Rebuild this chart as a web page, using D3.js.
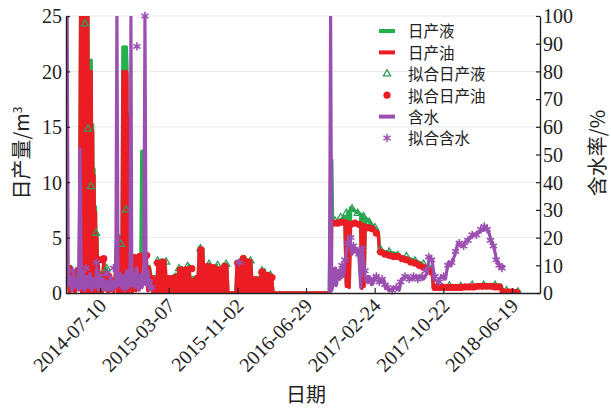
<!DOCTYPE html>
<html>
<head>
<meta charset="utf-8">
<script src="https://cdn.jsdelivr.net/npm/d3@7"></script>
<style>
body { margin: 0; background: #fff; }
svg text { font-family: "Liberation Serif", "DejaVu Serif", serif; fill: #222; }
svg text.cjk { font-family: "Noto Sans CJK SC", "Noto Sans", sans-serif; }
</style>
</head>
<body>
<svg id="chart" width="611" height="409"></svg>
<script>

// day 0 of the production record
var startDate = new Date(2014, 2, 13);
var endDay = 1657;

var tickDates = ["2014-07-10", "2015-03-07", "2015-11-02", "2016-06-29", "2017-02-24", "2017-10-22", "2018-06-19"];
var leftTicks = [0, 5, 10, 15, 20, 25];
var rightTicks = [0, 10, 20, 30, 40, 50, 60, 70, 80, 90, 100];
var legendNames = ["日产液", "日产油", "拟合日产液", "拟合日产油", "含水", "拟合含水"];

// [day, m3/d]
var liquid = [[7,2.3],[12,0],[17,2.4],[22,0.3],[27,1.8],[32,0.2],[37,2.2],[42,0.5],[47,1.9],
  [52,30],[55,0],[58,30],[61,0],[64,30],[67,0],[70,30],[73,0],[76,30],[79,0],
  [82,21],[85,0],[88,21],[91,0],[93,15.2],[96,0],[98,11.2],[101,0],[103,7.8],[106,0],[108,5.4],[111,0],[113,2.6],
  [117,0.3],[122,1.8],[127,0.2],[132,3.0],[137,0.4],[142,2.2],[147,0.2],[152,1.6],[157,0.3],[162,1.2],[167,0.2],[172,1.4],
  [178,5.4],[181,0],[184,5.2],[187,0],[190,5.0],[193,0],[196,4.6],[199,22.2],[202,0],[205,22.2],[208,0],[211,22.2],
  [213,20.4],[214,0],[216,16.2],[219,0],[221,4.0],[226,3.6],[232,0.2],[238,3.4],
  [244,0.3],[250,3.3],[256,0.5],[262,3.6],[265,12.8],[272,12.8],[275,1.2],[280,3.6],[286,0.3],[291,2.4],
  [298,1.4],[304,0],[310,1.5],[316,0],[322,2.9],[328,0],[334,3.0],[340,0],[346,2.9],[352,0],
  [358,1.4],[364,0],[370,1.5],[376,0],[382,1.7],[388,0],[394,2.2],[400,0],[406,2.3],[412,0],
  [418,2.2],[424,0],[430,2.5],[436,0],[442,1.4],[448,0],[454,1.5],[460,0],[466,4.1],[472,0],
  [478,4.0],[484,0],[490,2.5],[496,0],[502,2.6],[508,0],[514,2.4],[520,0],[526,2.5],[532,0],
  [538,2.2],[544,0],[550,2.6],[556,0],[562,2.6],[566,0],[594,0],[598,2.8],[604,0],[610,3.0],
  [616,0],[622,3.3],[628,0],[634,3.0],[640,0],[646,2.9],[652,0],[658,1.3],[664,0],[670,1.4],
  [676,0],[682,2.0],[688,0],[694,2.1],[700,0],[706,1.7],[712,0],[718,1.6],[724,0],[920,0],
  [926,12.0],[929,12.0],[932,6.5],[945,6.4],[960,6.6],[975,6.9],[980,0.8],[985,7.3],[990,0.6],[995,7.7],
  [1010,7.4],[1030,7.1],[1034,0.5],[1038,7.0],[1042,0.8],[1046,6.8],[1064,6.3],[1081,5.8],[1092,5.5],[1096,3.9],
  [1120,3.7],[1150,3.6],[1170,3.3],[1190,3.2],[1214,3.0],[1240,2.7],[1262,2.3],[1280,2.0],[1284,0.7],[1320,0.6],
  [1360,0.65],[1400,0.6],[1440,0.7],[1480,0.75],[1520,0.7],[1528,0.2],[1560,0.15],[1590,0.1]];

var oil = [[7,2.2],[12,0],[17,2.3],[22,0.2],[27,1.6],[32,0.1],[37,2.1],[42,0.4],[47,1.8],
  [52,30],[55,0],[58,30],[61,0],[64,30],[67,0],[70,30],[73,0],[76,30],[79,0],
  [82,20],[85,0],[88,20],[91,0],[93,14.6],[96,0],[98,10.6],[101,0],[103,7.3],[106,0],[108,5.0],[111,0],[113,2.5],
  [117,0.2],[122,1.6],[127,0.1],[132,2.9],[137,0.3],[142,2.0],[147,0.1],[152,1.5],[157,0.2],[162,1.0],[167,0.1],[172,1.2],
  [178,5.2],[181,0],[184,5.0],[187,0],[190,4.8],[193,0],[196,4.4],[199,20],[202,0],[205,20],[208,0],[211,20],
  [213,19.8],[214,0],[216,16],[219,0],[221,3.8],[226,3.4],[232,0.1],[238,3.2],
  [244,0.2],[250,3.1],[256,0.3],[262,3.4],[265,3.5],[272,3.3],[275,1.0],[280,3.5],[286,0.2],[291,2.3],
  [298,1.2],[304,0],[310,1.3],[316,0],[322,2.7],[328,0],[334,2.8],[340,0],[346,2.7],[352,0],
  [358,1.2],[364,0],[370,1.3],[376,0],[382,1.5],[388,0],[394,2.0],[400,0],[406,2.1],[412,0],
  [418,2.0],[424,0],[430,2.3],[436,0],[442,1.2],[448,0],[454,1.3],[460,0],[466,3.9],[472,0],
  [478,3.8],[484,0],[490,2.3],[496,0],[502,2.4],[508,0],[514,2.2],[520,0],[526,2.3],[532,0],
  [538,2.0],[544,0],[550,2.4],[556,0],[562,2.4],[566,0],[594,0],[598,2.6],[604,0],[610,2.8],
  [616,0],[622,3.1],[628,0],[634,2.8],[640,0],[646,2.7],[652,0],[658,1.1],[664,0],[670,1.2],
  [676,0],[682,1.8],[688,0],[694,1.9],[700,0],[706,1.5],[712,0],[718,1.4],[724,0],[920,0],
  [926,0.2],[929,6.2],[932,6.3],[945,6.2],[960,6.4],[975,6.3],[980,0.6],[985,6.4],[990,0.5],[995,6.3],
  [1010,6.2],[1030,6.2],[1034,0.4],[1038,6.1],[1042,0.6],[1046,6.1],[1064,6.0],[1081,5.6],[1092,5.2],[1096,3.7],
  [1120,3.5],[1150,3.3],[1170,3.2],[1190,3.0],[1214,2.7],[1240,2.4],[1262,2.1],[1280,1.9],[1284,0.5],[1320,0.5],
  [1360,0.5],[1400,0.55],[1440,0.6],[1480,0.6],[1520,0.55],[1528,0.1],[1560,0.1],[1590,0.05]];

// [day, %], null = no production
var water = [[1,2],[4,100],[8,3],[14,6],[20,1],[26,7],[32,2],[38,5],[44,1],[49,52],
  [54,2],[60,8],[66,1],[72,6],[78,2],[84,7],[90,1],[96,5],[102,2],[108,9],
  [114,1],[120,6],[126,2],[132,5],[138,1],[144,4],[150,1],[156,6],[162,1],[168,4],
  [174,2],[178,100],[182,3],[188,7],[194,2],[200,6],[206,1],[212,8],[218,2],[224,4],
  [227,100],[230,3],[236,7],[242,2],[248,9],[254,1],[260,5],[266,2],[272,4],[276,100],
  [280,3],[286,8],[292,1],[298,5],[300,null],
  [921,0],[925,100],[929,1],[934,4],[940,9],[946,3],[952,8],[958,5],[964,10],[970,6],
  [976,12],[982,16],[988,20],[994,19],[1000,14],[1006,17],[1012,15],[1018,16],[1024,13],[1030,2],
  [1034,16],[1040,12],[1046,6],[1053,4],[1060,6],[1070,3],[1080,5],[1090,6],[1100,4],[1110,5],
  [1116,2],[1130,1],[1150,2],[1165,1],[1172,5],[1190,6],[1210,5],[1230,6],[1250,5],[1262,7],
  [1270,13],[1280,12],[1288,5],[1300,4],[1312,6],[1326,5],[1336,11],[1346,10],[1360,14],[1370,18],
  [1385,17],[1400,19],[1414,20],[1430,21],[1445,22],[1460,23],[1468,24],[1478,22],[1486,19],[1495,17],
  [1505,12],[1515,10],[1525,9],[1533,10]];

var fitLiquid = [[35,1.7],[66,24.3],[77,14.8],[87,9.6],[105,5.4],[143,2.2],[192,4.4],[210,7.5],
  [320,2.9],[350,2.8],[395,2.2],[425,2.4],[470,4.0],[500,2.6],[530,2.5],[560,2.6],[615,3.0],[645,2.9],[685,2.0],[715,1.6],
  [940,6.5],[960,6.8],[980,7.2],[1000,7.6],[1020,7.2],[1040,6.9],[1060,6.4],[1080,5.9],[1100,3.9],[1130,3.7],
  [1160,3.4],[1190,3.3],[1220,2.9],[1250,2.6],[1275,2.1],[1300,0.7],[1340,0.65],[1380,0.6],[1420,0.7],[1460,0.7],
  [1500,0.7],[1540,0.2],[1580,0.1]];

var fitOil = [[10,2.2],[25,1.7],[40,2.0],[119,3.0],[132,3.1],[150,1.5],[165,1.1],[222,3.6],[240,3.2],
  [258,3.3],[282,3.4],[300,1.3],[320,2.7],[340,2.8],[360,1.3],[380,1.4],[400,2.1],[420,2.1],[440,2.2],
  [458,1.3],[472,3.9],[495,2.4],[515,2.3],[535,2.1],[555,2.4],[600,2.7],[620,3.1],[640,2.8],[662,1.2],
  [685,1.9],[705,1.6],[720,1.4],
  [935,6.3],[950,6.3],[965,6.4],[980,6.3],[995,6.2],[1010,6.3],[1025,6.2],[1040,6.0],[1055,5.9],[1070,5.8],
  [1085,5.4],[1100,3.7],[1115,3.5],[1130,3.4],[1145,3.3],[1160,3.3],[1175,3.1],[1190,3.0],[1205,2.8],[1220,2.7],
  [1235,2.5],[1250,2.3],[1265,2.1],[1278,1.9],[1290,0.5],[1305,0.5],[1320,0.5],[1335,0.5],[1350,0.5],[1365,0.5],
  [1380,0.5],[1395,0.55],[1410,0.55],[1425,0.55],[1440,0.6],[1455,0.6],[1470,0.6],[1485,0.6],[1500,0.55],[1515,0.55],
  [1528,0.1],[1545,0.1],[1560,0.1],[1575,0.05]];

var fitWater = [[12,4],[24,8],[36,3],[48,6],[58,2],[70,9],[82,5],[94,3],[106,11],[118,6],
  [130,2],[142,7],[154,4],[166,9],[180,3],[192,6],[204,2],[216,5],[228,8],[240,3],
  [248,89],[264,6],[276,100],[288,4],[300,2],[605,11],
  [935,3],[945,8],[955,6],[965,10],[975,12],[985,18],[995,20],[1005,17],[1015,15],[1025,14],
  [1035,16],[1045,8],[1055,5],[1065,4],[1075,5],[1085,6],[1095,4],[1105,5],[1115,3],[1125,2],
  [1140,1],[1155,2],[1170,4],[1185,6],[1200,5],[1215,6],[1230,5],[1245,6],[1258,8],[1268,13],
  [1278,12],[1290,6],[1305,4],[1320,6],[1335,10],[1348,11],[1362,15],[1375,18],[1390,17],[1405,19],
  [1420,21],[1435,21],[1450,23],[1462,24],[1472,23],[1484,19],[1494,17],[1504,12],[1514,10],[1524,9]];

var green = "#22b14c", red = "#ec1c24", purple = "#9b4fb0", triGreen = "#2f9e5a";

var margin = {top: 16, right: 71, bottom: 116, left: 66};
var width = 611 - margin.left - margin.right;
var height = 409 - margin.top - margin.bottom;

function dayDate(d) { return d3.timeDay.offset(startDate, d); }

var x = d3.scaleTime()
  .domain([startDate, dayDate(endDay)])
  .range([0, width]);
var yL = d3.scaleLinear().domain([0, 25]).range([height, 0]);
var yR = d3.scaleLinear().domain([0, 100]).range([height, 0]);

var svg = d3.select("#chart");
var g = svg.append("g").attr("transform", "translate(" + margin.left + "," + margin.top + ")");

g.append("defs").append("clipPath").attr("id", "plotClip")
  .append("rect").attr("x", 0).attr("y", 0).attr("width", width).attr("height", height);

// faint grid
g.selectAll(".grid").data(leftTicks.slice(1)).enter().append("line")
  .attr("x1", 0).attr("x2", width)
  .attr("y1", function(d) { return yL(d); }).attr("y2", function(d) { return yL(d); })
  .style("stroke", "#e4e4e4").style("stroke-width", 0.8);

var lineL = d3.line()
  .x(function(d) { return x(dayDate(d[0])); })
  .y(function(d) { return yL(d[1]); });
var lineR = d3.line()
  .defined(function(d) { return d[1] != null; })
  .x(function(d) { return x(dayDate(d[0])); })
  .y(function(d) { return yR(d[1]); });

var plot = g.append("g").attr("clip-path", "url(#plotClip)");

plot.append("path").datum(liquid).attr("d", lineL)
  .style("fill", "none").style("stroke", green).style("stroke-width", 3.4).style("stroke-linejoin", "round");
plot.append("path").datum(oil).attr("d", lineL)
  .style("fill", "none").style("stroke", red).style("stroke-width", 3.4).style("stroke-linejoin", "round");

var tri = d3.symbol().type(d3.symbolTriangle).size(22);
var star = d3.symbol().type(d3.symbolAsterisk).size(48);

plot.selectAll(".fitLiq").data(fitLiquid).enter().append("path")
  .attr("d", tri)
  .attr("transform", function(d) { return "translate(" + x(dayDate(d[0])) + "," + yL(d[1]) + ")"; })
  .style("fill", "none").style("stroke", triGreen).style("stroke-width", 1.3);

plot.selectAll(".fitOil").data(fitOil).enter().append("circle")
  .attr("cx", function(d) { return x(dayDate(d[0])); })
  .attr("cy", function(d) { return yL(d[1]); })
  .attr("r", 3.6)
  .style("fill", red);

plot.append("path").datum(water).attr("d", lineR)
  .style("fill", "none").style("stroke", purple).style("stroke-width", 3.2).style("stroke-linejoin", "round");

// stars are not clipped, the 100% ones sit on the top edge
g.selectAll(".fitWater").data(fitWater).enter().append("path")
  .attr("d", star)
  .attr("transform", function(d) { return "translate(" + x(dayDate(d[0])) + "," + yR(d[1]) + ")"; })
  .style("fill", "none").style("stroke", purple).style("stroke-width", 1.6);

// axes, ticks pointing inward
var parseDate = d3.timeParse("%Y-%m-%d");
var fmt = d3.timeFormat("%Y-%m-%d");

var xAxis = g.append("g").attr("transform", "translate(0," + height + ")")
  .call(d3.axisBottom(x).tickValues(tickDates.map(parseDate)).tickFormat(fmt).tickSizeInner(-5).tickSizeOuter(0));
xAxis.selectAll("text")
  .attr("x", 0).attr("y", 0).attr("dy", 0)
  .style("text-anchor", "end")
  .attr("transform", "translate(7,14) rotate(-45)");

var leftAxis = g.append("g")
  .call(d3.axisLeft(yL).tickValues(leftTicks).tickSizeInner(-4).tickSizeOuter(0).tickPadding(4));
leftAxis.selectAll("text").attr("dy", "0.34em");

var rightAxis = g.append("g").attr("transform", "translate(" + width + ",0)")
  .call(d3.axisRight(yR).tickValues(rightTicks).tickSizeInner(-4).tickSizeOuter(0).tickPadding(3));
rightAxis.selectAll("text").attr("dy", "0.34em");

[xAxis, leftAxis, rightAxis].forEach(function(a) {
  a.attr("font-size", null).attr("font-family", null);
  a.selectAll("text").style("font-size", "20px").style("fill", "#222");
  a.selectAll("line").style("stroke", "#222").style("stroke-width", 1.2);
  a.select(".domain").style("stroke", "#222").style("stroke-width", 1.4);
});

// axis titles
var yTitle = svg.append("text").attr("class", "cjk")
  .attr("transform", "translate(29,153) rotate(-90)")
  .style("text-anchor", "middle").style("font-size", "20px");
yTitle.append("tspan").text("日产量/m");
yTitle.append("tspan").attr("dy", "-0.55em").style("font-size", "12px").text("3");

svg.append("text").attr("class", "cjk")
  .attr("transform", "translate(605,153) rotate(-90)")
  .style("text-anchor", "middle").style("font-size", "20px")
  .text("含水率/%");

svg.append("text").attr("class", "cjk")
  .attr("x", margin.left + x(parseDate("2016-06-29"))).attr("y", 402)
  .style("text-anchor", "middle").style("font-size", "20px")
  .text("日期");

// legend
var legend = svg.append("g").attr("transform", "translate(379,31)");
legendNames.forEach(function(name, i) {
  var row = legend.append("g").attr("transform", "translate(0," + (i * 21.4) + ")");
  if (i == 0 || i == 1 || i == 4) {
    row.append("line").attr("x1", 0).attr("x2", 16).attr("y1", 0).attr("y2", 0)
      .style("stroke", [green, red, 0, 0, purple][i]).style("stroke-width", 4);
  } else if (i == 2) {
    row.append("path").attr("d", tri).attr("transform", "translate(8,0)")
      .style("fill", "none").style("stroke", triGreen).style("stroke-width", 1.3);
  } else if (i == 3) {
    row.append("circle").attr("cx", 8).attr("cy", 0).attr("r", 3.6).style("fill", red);
  } else {
    row.append("path").attr("d", star).attr("transform", "translate(8,0)")
      .style("fill", "none").style("stroke", purple).style("stroke-width", 1.4);
  }
  row.append("text").attr("class", "cjk")
    .attr("x", 29).attr("y", 1).attr("dy", "0.35em")
    .style("font-size", "15.5px")
    .text(name);
});

</script>
</body>
</html>
